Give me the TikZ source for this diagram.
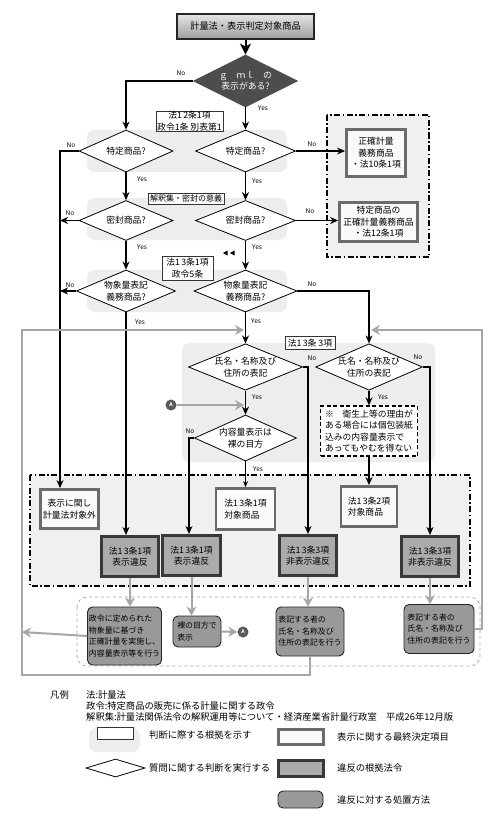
\documentclass[tikz,border=0pt]{standalone}
\usepackage{fontspec}
\setmainfont{Noto Sans CJK JP}
\usetikzlibrary{shapes.geometric,arrows.meta}
\definecolor{dgray}{HTML}{4D4D4D}
\definecolor{loopgray}{HTML}{A6A6A6}
\newcommand{\jq}[2]{#1\kern1.2pt#2}
\tikzset{
 base/.style={font=\fontsize{8.8}{11.5}\selectfont, align=center, inner sep=0pt},
 dec/.style={base, diamond, aspect=2.3, draw=black, line width=0.8pt, fill=white},
 basis/.style={base, draw=black!80, line width=0.7pt, fill=white},
 band/.style={fill=black!7, rounded corners=8pt},
 titlebox/.style={base, draw=black!85, line width=2pt, top color=black!10, bottom color=black!38, font=\fontsize{9.2}{11}\selectfont},
 final/.style={base, draw=black!58, line width=2.8pt, fill=black!2},
 viol/.style={base, draw=black!78, line width=3pt, fill=black!33},
 act/.style={base, font=\fontsize{7.9}{11.5}\selectfont, draw=black!85, line width=0.9pt, fill=black!40, rounded corners=5pt, align=left},
 arr/.style={draw=black, line width=1.2pt, -{Stealth[length=8pt,width=7pt,inset=2.5pt]}},
 garr/.style={draw=loopgray, line width=2pt, -{Stealth[length=9pt,width=10pt,inset=3pt]}},
 yn/.style={font=\fontsize{6.5}{7}\selectfont, inner sep=0pt},
 dashdot/.style={line width=1.3pt, dash pattern=on 6pt off 2.5pt on 1.5pt off 2.5pt},
 circA/.style={circle, fill=black!65, minimum size=11pt, inner sep=0pt, text=white, font=\fontsize{5}{5}\selectfont\bfseries},
 lgtext/.style={font=\fontsize{9.3}{11}\selectfont, inner sep=0pt, anchor=west},
}
\begin{document}
\begin{tikzpicture}[x=1pt,y=-1pt]
\fill[white] (0,0) rectangle (500,824);
\useasboundingbox (0,0) rectangle (500,824);

% backgrounds
\fill[band] (87,130) rectangle (287,172);
\fill[band] (87,198) rectangle (287,240);
\fill[band] (87,270) rectangle (287,312);
\fill[band] (182,343) rectangle (435,462);
\draw[dashdot, fill=black!6] (327,115) rectangle (429,257);
\draw[dashdot, fill=black!6] (30,475) rectangle (470,586);
\draw[black!35, line width=0.8pt, dashed, rounded corners=10pt] (77,597) rectangle (480,666);

% nodes
\node[titlebox, minimum width=137, minimum height=25] (title) at (245.5,26.5) {計量法・表示判定対象商品};
\node[dec, fill=dgray, draw=dgray, text=white, minimum width=104, minimum height=52] (d1) at (245.5,81) {ｇ　ｍｌ　の\\表示がある?};
\node[basis, minimum width=67, minimum height=20] (b1) at (189.5,121) {法\jq12条1項\\政令1条 別表第1};
\node[dec, minimum width=94, minimum height=42] (d2) at (126,151) {特定商品?};
\node[dec, minimum width=100, minimum height=42] (d3) at (245.5,151) {特定商品?};
\node[final, minimum width=59, minimum height=47] (f10) at (376,153) {正確計量\\義務商品\\・法10条1項};
\node[basis, line width=1pt, font=\fontsize{8}{9}\selectfont, minimum width=76, minimum height=11] (b2) at (186,198.5) {解釈集・密封の意義};
\node[dec, minimum width=94, minimum height=40] (d4) at (126,220.5) {密封商品?};
\node[dec, minimum width=100, minimum height=40] (d5) at (245.5,220.5) {密封商品?};
\node[final, minimum width=78, minimum height=39] (f12) at (378.5,222) {特定商品の\\正確計量義務商品\\・法12条1項};
\node[basis, minimum width=51, minimum height=24] (b3) at (187.5,268) {法\jq13条1項\\政令5条};
\node[dec, minimum width=99, minimum height=42] (d6) at (126,291) {物象量表記\\義務商品?};
\node[dec, minimum width=103, minimum height=42] (d7) at (245.5,291) {物象量表記\\義務商品?};
\node[basis, minimum width=50, minimum height=13] (b4) at (310,343) {法\jq13条 3項};
\node[dec, minimum width=114, minimum height=46] (d8) at (245.5,367) {氏名・名称及び\\住所の表記};
\node[dec, minimum width=104, minimum height=46] (d9) at (369,367) {氏名・名称及び\\住所の表記};
\node[circA] (A1) at (171,405) {A};
\node[dec, minimum width=102, minimum height=46] (d10) at (245.5,438) {内容量表示は\\裸の目方};
\node[base, draw=black, line width=1.3pt, dash pattern=on 4pt off 2.5pt, fill=white, minimum width=97, minimum height=50, align=left] (note) at (369,431) {※　衛生上等の理由が\\ある場合には個包装紙\\込みの内容量表示で\\あってもやむを得ない};

\node[final, minimum width=58, minimum height=39] (t0) at (69.5,509) {表示に関し\\計量法対象外};
\node[final, align=left, minimum width=59, minimum height=41] (t1) at (245.5,509) {法\jq13条1項\\対象商品};
\node[final, align=left, minimum width=56, minimum height=40] (t2) at (369,506.5) {法\jq13条2項\\対象商品};

\node[viol, minimum width=57, minimum height=40] (v1) at (130,556.5) {法\jq13条1項\\表示違反};
\node[viol, minimum width=58, minimum height=40] (v2) at (191.5,555.5) {法\jq13条1項\\表示違反};
\node[viol, minimum width=57, minimum height=40] (v3) at (308,555.5) {法\jq13条3項\\非表示違反};
\node[viol, minimum width=57, minimum height=40] (v4) at (430,556.5) {法\jq13条3項\\非表示違反};

\node[act, minimum width=74, minimum height=58] (a1) at (124.5,636) {政令に定められた\\物象量に基づき\\正確計量を実施し、\\内容量表示等を行う};
\node[act, minimum width=48, minimum height=31] (a2) at (197,631.5) {裸の目方で\\表示};
\node[act, minimum width=68, minimum height=49] (a3) at (310,631.5) {表記する者の\\氏名・名称及び\\住所の表記を行う};
\node[act, minimum width=70, minimum height=49] (a4) at (439,629) {表記する者の\\氏名・名称及び\\住所の表記を行う};
\node[circA] (A2) at (243,632) {A};

% coordinates
\coordinate (c60) at (60,151);
\coordinate (ain) at (244,405);
\coordinate (lft) at (22,632);
\coordinate (lbot) at (22,675);
\coordinate (lin) at (244,330);
\coordinate (rtop) at (482,330);
\coordinate (rin) at (371,330);

% black connectors
\draw[draw=black, line width=2pt, -{Stealth[length=11pt,width=11pt,inset=3pt]}] (title.south) -- (d1.north);
\draw[arr] (d1.west) -| (d2.north);
\draw[arr] (d1.south) -- (d3.north);
\draw[arr] (d2.west) -- (c60) -- (c60 |- t0.north);
\draw[arr] (d3.east) -- (d3.east -| f10.west);
\draw[arr] (d2.south) -- (d4.north);
\draw[arr] (d3.south) -- (d5.north);
\draw[arr] (d4.west) -- (d4.west -| c60);
\draw[arr] (d5.east) -- (d5.east -| f12.west);
\draw[arr] (d4.south) -- (d6.north);
\draw[arr] (d5.south) -- (d7.north);
\draw[arr] (d6.west) -- (d6.west -| c60);
\draw[arr] (d6.south) -- (d6.south |- v1.north);
\draw[arr] (d7.east) -| (d9.north);
\draw[arr] (d7.south) -- (d8.north);
\draw[arr] (d8.east) -| (v3.north);
\draw[arr] (d9.east) -| (v4.north);
\draw[arr] (d8.south) -- (d10.north);
\draw[arr] (d10.west) -| ([xshift=-2.5pt]v2.north);
\draw[draw=black, line width=0.8pt, -{Stealth[length=6pt,width=5pt,inset=2pt]}] (d10.south) -- (t1.north);
\draw[arr] (d9.south) -- (note.north);
\draw[arr] (note.south) -- (t2.north);

% small marks
\fill[black] (223,253) -- (227.5,250.5) -- (227.5,255.5) -- cycle;
\fill[black] (230,253) -- (234.5,250.5) -- (234.5,255.5) -- cycle;

% gray connectors
\draw[garr] (A1.east) -- (ain);
\draw[garr] (v1.south) -- (v1.south |- a1.north);
\draw[garr] (v2.south) -- (v2.south |- a2.north);
\draw[garr] (v3.south) -- (v3.south |- a3.north);
\draw[garr] (v4.south) -- (v4.south |- a4.north);
\draw[garr] (a2.east) -- (A2.west);
\draw[garr] (a1.west) -- (lft);
\draw[garr] (a3.south) |- (lbot) |- (lin);
\draw[garr] (a4.east) -| (rtop) -- (rin);

% yes/no labels
\node[yn] (n1) at (181,73) {No};
\node[yn] (y1) at (263,108) {Yes};
\node[yn] (n2) at (71,145) {No};
\node[yn] (n3) at (312,144) {No};
\node[yn] (y2) at (142,179) {Yes};
\node[yn] (y3) at (257,181) {Yes};
\node[yn] (n4) at (70,213) {No};
\node[yn] (n5) at (310,211) {No};
\node[yn] (y4) at (142,247) {Yes};
\node[yn] (y5) at (257,247) {Yes};
\node[yn] (n6) at (70,285) {No};
\node[yn] (n7) at (312,284) {No};
\node[yn] (y6) at (140,322) {Yes};
\node[yn] (y7) at (256,321) {Yes};
\node[yn] (n8) at (312,358) {No};
\node[yn] (n9) at (418,357) {No};
\node[yn] (y8) at (257,397) {Yes};
\node[yn] (y9) at (383,397) {Yes};
\node[yn] (n10) at (190,431) {No};
\node[yn] (y10) at (258,469) {Yes};

% legend
\node[lgtext] (lg0) at (50,695) {凡例};
\node[lgtext] (lg1) at (86,695) {法:計量法};
\node[lgtext] (lg2) at (86,706) {政令:特定商品の販売に係る計量に関する政令};
\node[lgtext] (lg3) at (86,717) {解釈集:計量法関係法令の解釈運用等について・経済産業省計量行政室　平成26年12月版};
\fill[band] (89,728) rectangle (140,752);
\node[basis, minimum width=36, minimum height=12] (lgb) at (115,733) {};
\node[lgtext] (lgbt) at (149,735) {判断に際する根拠を示す};
\node[dec, minimum width=59, minimum height=18] (lgd) at (115.5,768) {};
\node[lgtext] (lgdt) at (149,768) {質問に関する判断を実行する};
\node[final, minimum width=45, minimum height=15] (lgf) at (301,737) {};
\node[lgtext] (lgft) at (337,737) {表示に関する最終決定項目};
\node[viol, minimum width=45, minimum height=16] (lgv) at (301,768.5) {};
\node[lgtext] (lgvt) at (337,768) {違反の根拠法令};
\node[act, minimum width=45, minimum height=17] (lga) at (300.5,799.5) {};
\node[lgtext] (lgat) at (337,800) {違反に対する処置方法};
\end{tikzpicture}
\end{document}
